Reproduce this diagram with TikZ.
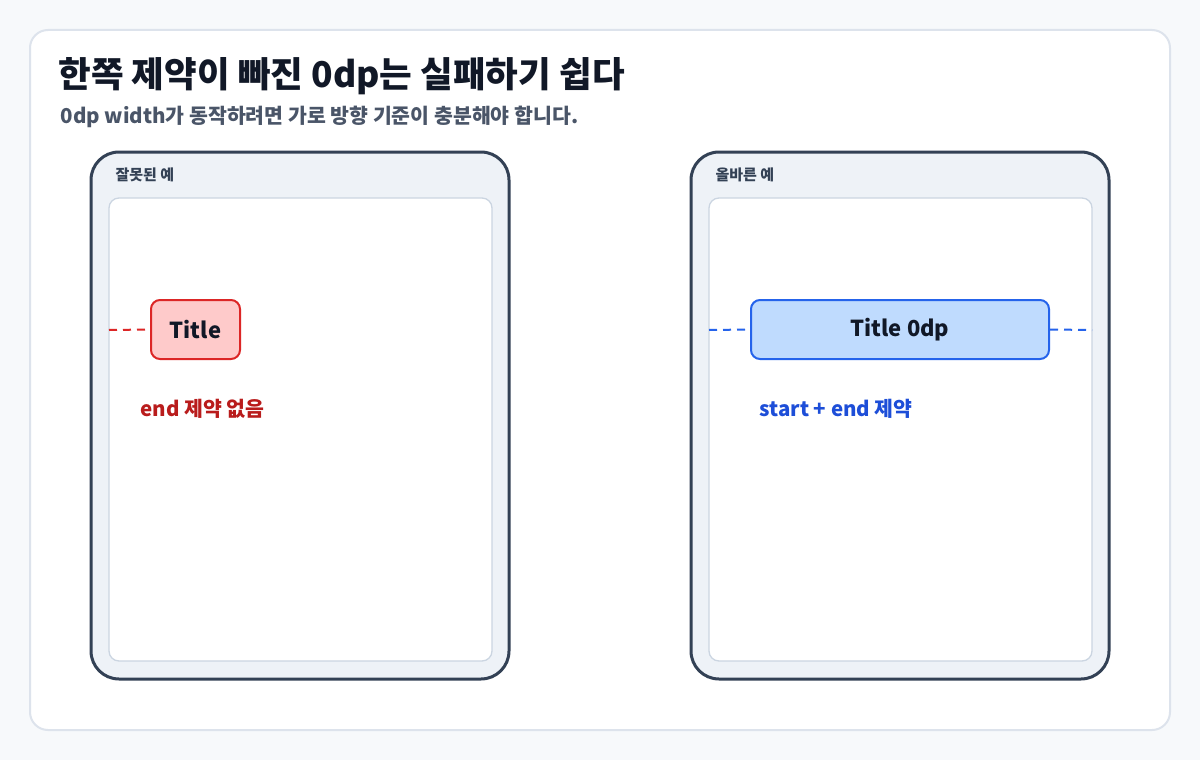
\documentclass[tikz,border=0pt]{standalone}
\usepackage{fontspec}
\setmainfont{Noto Sans CJK KR}[BoldFont={* Black}]
\begin{document}
\begin{tikzpicture}[x=1pt,y=-1pt,
  phone/.style={draw=phoneB,line width=3pt,fill=phoneF,rounded corners=28pt},
  screen/.style={draw=scrB,line width=1.3pt,fill=white,rounded corners=10pt},
  lbl/.style={anchor=west,font=\bfseries\fontsize{15}{15}\selectfont,text=phoneB},
  wide/.style={line width=2pt,rounded corners=9pt,font=\bfseries\fontsize{22}{22}\selectfont,text=ink}]
\definecolor{bg}{HTML}{F7F9FB}\definecolor{cardB}{HTML}{DDE3EC}
\definecolor{phoneB}{HTML}{334155}\definecolor{phoneF}{HTML}{EEF2F7}
\definecolor{scrB}{HTML}{CBD5E1}\definecolor{ink}{HTML}{111827}
\definecolor{sub}{HTML}{4A5568}
\definecolor{rF}{HTML}{FECACA}\definecolor{rB}{HTML}{DC2626}\definecolor{rT}{HTML}{B91C1C}
\definecolor{bF}{HTML}{BFDBFE}\definecolor{bB}{HTML}{2563EB}\definecolor{bT}{HTML}{1D4ED8}
\fill[bg] (0,0) rectangle (1200,760);
\draw[cardB,line width=2pt,fill=white,rounded corners=18pt] (30,30) rectangle (1170,730);
\node[anchor=base west,font=\bfseries\fontsize{35.5}{36}\selectfont,text=ink] (t) at (55,88) {한쪽 제약이 빠진 0dp는 실패하기 쉽다};
\node[anchor=base west,font=\bfseries\fontsize{20.5}{21}\selectfont,text=sub] (s) at (57,123) {0dp width가 동작하려면 가로 방향 기준이 충분해야 합니다.};
% left
\draw[phone] (91,152) rectangle (509,679);
\node[lbl] (l1) at (112,175) {잘못된 예};
\draw[screen] (109,198) rectangle (492,661);
\coordinate (le) at (109,330);
\node[wide,draw=rB,fill=rF,minimum width=89pt,minimum height=59pt] (lt) at (195.5,329.5) {Title};
\draw[rB,line width=2pt,dash pattern=on 8pt off 6pt] (le) -- (lt.west);
\node[anchor=west,font=\bfseries\fontsize{20.5}{21}\selectfont,text=rT] (ln) at (137,409) {end 제약 없음};
% right
\draw[phone] (691,152) rectangle (1109,679);
\node[lbl] (l2) at (712,175) {올바른 예};
\draw[screen] (709,198) rectangle (1092,661);
\coordinate (rs) at (709,330);\coordinate (re) at (1092,330);
\node[wide,draw=bB,fill=bF,minimum width=298pt,minimum height=59pt] (rt) at (900,329.5) {Title 0dp};
\draw[bB,line width=2pt,dash pattern=on 8pt off 6pt] (rs) -- (rt.west);
\draw[bB,line width=2pt,dash pattern=on 8pt off 6pt] (rt.east) -- (re);
\node[anchor=west,font=\bfseries\fontsize{20.5}{21}\selectfont,text=bT] (rn) at (756,409) {start + end 제약};
\end{tikzpicture}
\end{document}
